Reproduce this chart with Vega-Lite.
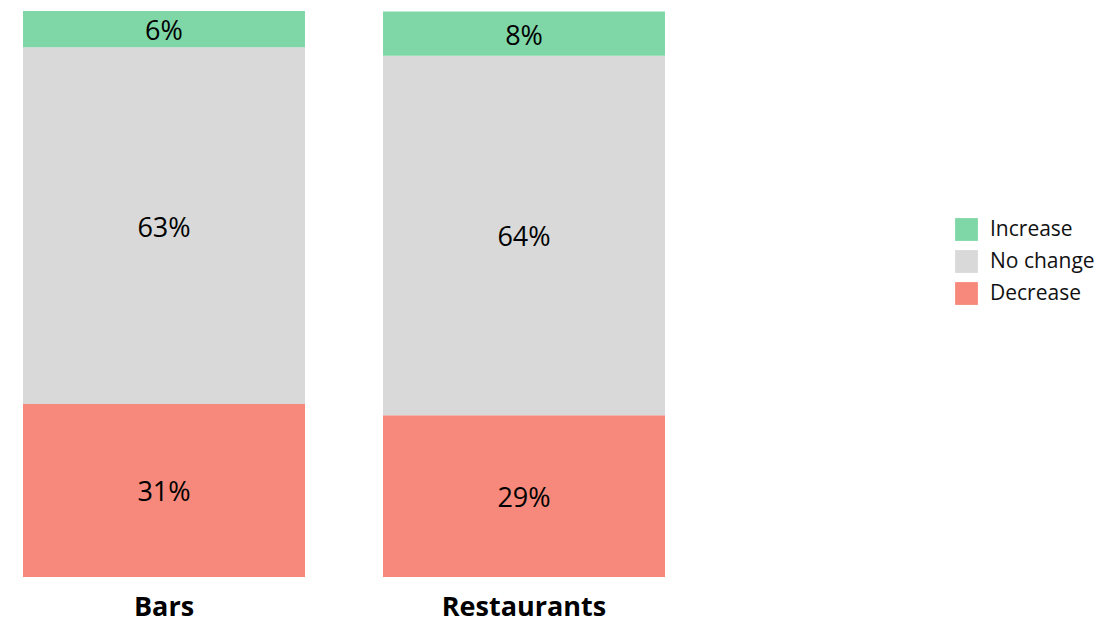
{
  "$schema": "https://vega.github.io/schema/vega-lite/v6.json",
  "width": 688,
  "height": 566,
  "autosize": "none",
  "padding": {"top": 11, "left": 0, "right": 431, "bottom": 47},
  "config": {"view": {"stroke": null}, "font": "Open Sans"},
  "data": {
    "values": [
      {"venue": "Bars", "change": "Decrease", "rank": 1, "value": 30.6, "label": "31%"},
      {"venue": "Bars", "change": "No change", "rank": 2, "value": 63.1, "label": "63%"},
      {"venue": "Bars", "change": "Increase", "rank": 3, "value": 6.4, "label": "6%"},
      {"venue": "Restaurants", "change": "Decrease", "rank": 1, "value": 28.6, "label": "29%"},
      {"venue": "Restaurants", "change": "No change", "rank": 2, "value": 63.6, "label": "64%"},
      {"venue": "Restaurants", "change": "Increase", "rank": 3, "value": 7.8, "label": "8%"}
    ]
  },
  "transform": [
    {"stack": "value", "groupby": ["venue"], "sort": [{"field": "rank", "order": "ascending"}], "as": ["v0", "v1"]},
    {"calculate": "(datum.v0 + datum.v1) / 2", "as": "vmid"}
  ],
  "encoding": {
    "x": {
      "field": "venue", "type": "nominal", "sort": ["Bars", "Restaurants"],
      "scale": {"paddingInner": 0.2167, "paddingOuter": 0.0639},
      "axis": {"title": null, "labelAngle": 0, "domain": false, "ticks": false, "labelFontSize": 27, "labelFontWeight": "bold", "labelColor": "#000", "labelBaseline": "alphabetic", "labelPadding": 38, "labelFont": "Open Sans"}
    }
  },
  "layer": [
    {
      "mark": {"type": "rect"},
      "encoding": {
        "y": {"field": "v0", "type": "quantitative", "scale": {"domain": [0, 100.1], "nice": false, "zero": true}, "axis": null},
        "y2": {"field": "v1"},
        "color": {
          "field": "change", "type": "nominal",
          "scale": {"domain": ["Increase", "No change", "Decrease"], "range": ["#7fd7a7", "#d9d9d9", "#f6897b"]},
          "legend": {"title": null, "orient": "none", "legendX": 955, "legendY": 207, "symbolType": "square", "symbolSize": 520, "symbolStrokeWidth": 0, "symbolOpacity": 1, "labelFontSize": 21, "labelColor": "#111", "labelFont": "Open Sans", "rowPadding": 9, "labelOffset": 12}
        }
      }
    },
    {
      "mark": {"type": "text", "fontSize": 27, "color": "#000", "baseline": "middle", "dy": 3},
      "encoding": {
        "y": {"field": "vmid", "type": "quantitative"},
        "text": {"field": "label"}
      }
    }
  ]
}
